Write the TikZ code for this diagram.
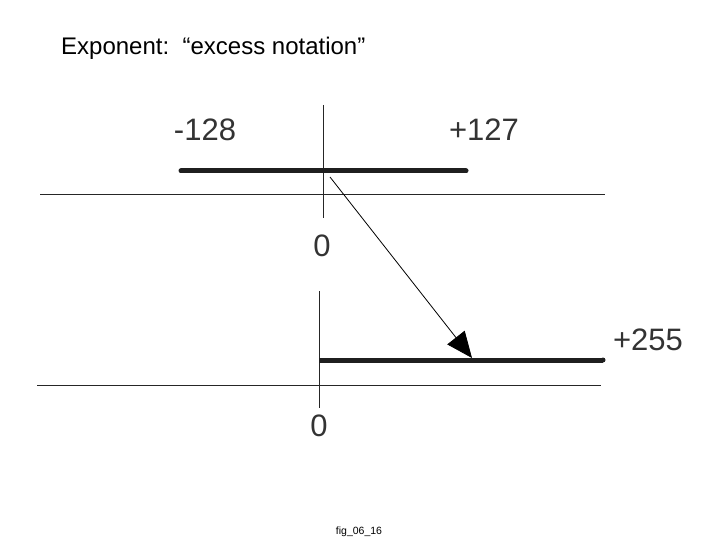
\documentclass[tikz,border=0pt]{standalone}
\usepackage{fontspec}
\setmainfont{Liberation Sans}
\usetikzlibrary{arrows.meta}
\begin{document}
\begin{tikzpicture}[x=1pt,y=-1pt,
  thin line/.style={line width=1pt,draw=black!85},
  thick bar/.style={line width=5pt,draw=black!88,line cap=round},
  numlabel/.style={inner sep=0pt,font=\fontsize{31}{31}\selectfont,text=black!80},
  arrowline/.style={line width=0.8pt,-{Triangle[length=26pt,width=22pt]}}]
\useasboundingbox (0,0) rectangle (720,540);
% title
\node[anchor=west,inner sep=0pt,font=\fontsize{24}{24}\selectfont] (title) at (61,48) {Exponent:\ \ “excess notation”};
% upper scale
\coordinate (uvt) at (323,105); \coordinate (uvb) at (323,218);
\coordinate (ubl) at (181,171); \coordinate (ubr) at (466,171);
\coordinate (ual) at (40,195); \coordinate (uar) at (605,195);
\draw[thin line] (uvt) -- (uvb);
\draw[thin line] (ual) -- (uar);
\draw[thick bar] (ubl) -- (ubr);
\node[numlabel] (m128) at (205,130) {-128};
\node[numlabel] (p127) at (484,130) {+127};
\node[numlabel] (z1) at (322,246) {0};
% lower scale
\coordinate (lvt) at (319,291); \coordinate (lvb) at (319,408);
\coordinate (lbl) at (319,360); \coordinate (lbr) at (603,360);
\coordinate (lal) at (37,385); \coordinate (lar) at (601,385);
\draw[thin line] (lvt) -- (lvb);
\draw[thin line] (lal) -- (lar);
\draw[thick bar,line cap=butt] (lbl) -- (lbr);
\fill[black!88] (lbr) circle (2.5pt);
\node[numlabel] (p255) at (648,340) {+255};
\node[numlabel] (z2) at (319,426) {0};
% arrow
\coordinate (as) at (330,177); \coordinate (ae) at (472,358);
\draw[arrowline] (as) -- (ae);
% caption
\node[inner sep=0pt,font=\fontsize{10.5}{10.5}\selectfont] (cap) at (359,532) {fig\_06\_16};
\end{tikzpicture}
\end{document}
